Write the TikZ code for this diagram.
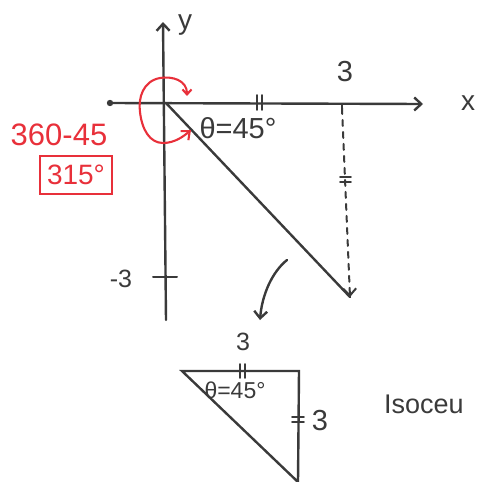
\documentclass[tikz,border=0pt]{standalone}
\usepackage{fontspec}
\setmainfont{Liberation Sans}
\usetikzlibrary{arrows.meta}
\definecolor{inkc}{HTML}{3A3A3A}
\definecolor{redc}{HTML}{E8303A}
\begin{document}
\begin{tikzpicture}[x=1pt,y=-1pt,
  ink/.style={draw=inkc, line width=2.4pt, line cap=round},
  redink/.style={draw=redc, line width=2.1pt, line cap=round},
  barb/.style={-{Straight Barb[length=7pt,width=13pt]}},
  lbl/.style={text=inkc, inner sep=0pt, font=\fontsize{25}{25}\selectfont},
  rlbl/.style={text=redc, inner sep=0pt, font=\fontsize{31}{31}\selectfont}]
\useasboundingbox (0,0) rectangle (478,482);
% main axes
\coordinate (O) at (166,103);
\coordinate (xl) at (110,103);
\coordinate (xr) at (423,104);
\coordinate (yt) at (163,22);
\coordinate (yb) at (166,320);
\coordinate (P) at (350,297);
\coordinate (Q) at (342,108);
\draw[ink,barb] (xl) -- (xr);
\fill[inkc] (xl) circle (3.2pt);
\draw[ink,barb] (yb) -- (yt);
\draw[ink] (O) -- (P);
\draw[ink,line width=2pt,dash pattern=on 6pt off 6pt,barb] (Q) -- (P);
% ticks
\draw[ink,line width=1.8pt] (257,95) -- (257,110) (262,95) -- (262,110);
\draw[ink,line width=1.8pt] (342,104) -- (342,113);
\draw[ink,line width=1.8pt] (340,177) -- (351,177) (340,182) -- (351,182);
\draw[ink,line width=2pt] (153,277) -- (177,277);
% labels
\node[lbl,font=\fontsize{28}{28}\selectfont] (ylab) at (185,25) {y};
\node[lbl,font=\fontsize{28}{28}\selectfont] (xlab) at (468,103) {x};
\node[lbl,font=\fontsize{29}{29}\selectfont] (three) at (345,72) {3};
\node[lbl] (mthree) at (121,279) {-3};
\node[lbl,font=\fontsize{29}{29}\selectfont] (theta) at (238,128) {θ=45°};
% curved arrow
\coordinate (ca) at (287,260);
\coordinate (cb) at (260,320);
\draw[ink,barb] (ca) .. controls (272,272) and (262,295) .. (cb);
% red angle arc
\coordinate (r1) at (187,96);
\coordinate (r2) at (191,130);
\draw[redink,{Straight Barb[length=5pt,width=9pt]}-{Straight Barb[length=7pt,width=12pt]}]
  (r1) .. controls (187,80) and (172,76) .. (160,78)
  .. controls (143,81) and (138,98) .. (140,112)
  .. controls (142,130) and (150,143) .. (163,143)
  .. controls (175,143) and (184,136) .. (r2);
\node[rlbl] (calc) at (59,135) {360-45};
\node[rlbl,font=\fontsize{28}{28}\selectfont,draw=redc,line width=2pt,
  inner xsep=7pt,inner ysep=9pt] (ans) at (76,175) {315°};
% bottom triangle
\coordinate (A) at (182,371);
\coordinate (B) at (299,371);
\coordinate (C) at (298,482);
\draw[ink] (A) -- (B) -- (C) -- cycle;
\draw[ink,line width=1.8pt] (240,364) -- (240,378) (245,364) -- (245,378);
\draw[ink,line width=1.8pt] (292,417) -- (304,417) (292,422) -- (304,422);
\node[lbl] (tthree) at (243,342) {3};
\node[lbl,font=\fontsize{23}{23}\selectfont] (ttheta) at (235,390) {θ=45°};
\node[lbl,font=\fontsize{29}{29}\selectfont] (rthree) at (320,421) {3};
\node[lbl,anchor=west,font=\fontsize{27}{27}\selectfont] (iso) at (384,404) {Isoceu};
\end{tikzpicture}
\end{document}
